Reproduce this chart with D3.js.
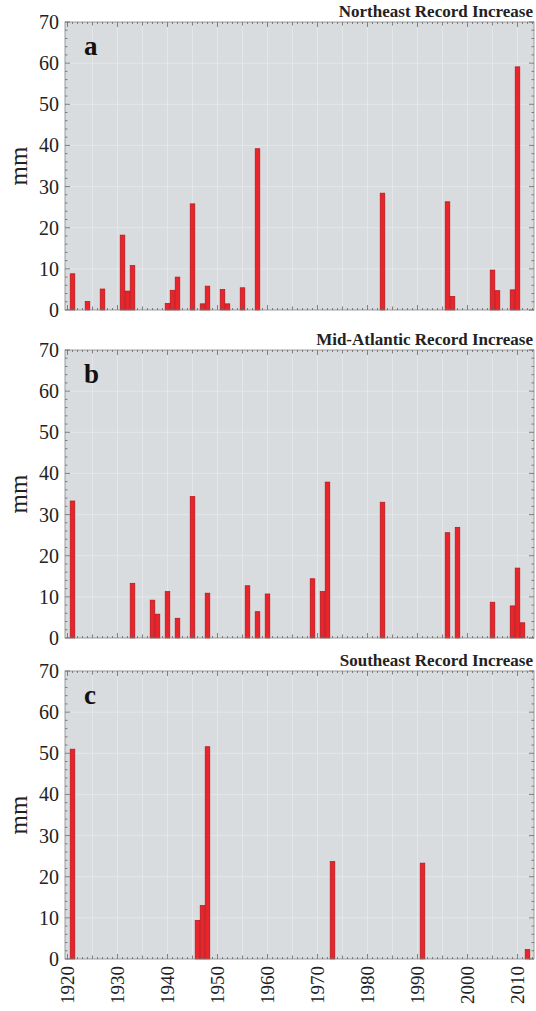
<!DOCTYPE html>
<html><head><meta charset="utf-8">
<script src="https://cdn.jsdelivr.net/npm/d3@7"></script>
<style>body{margin:0;background:#fff}svg{display:block}text{font-family:'Liberation Serif','Times New Roman',Times,serif}</style>
</head><body>
<svg id="c" width="536" height="1011"></svg>
<script>
const yearsA = [1921,1924,1927,1931,1932,1933,1940,1941,1942,1945,1947,1948,1951,1952,1955,1958,1983,1996,1997,2005,2006,2009,2010];
const valuesA = [8.8,2.1,5.1,18.2,4.6,10.8,1.6,4.8,8.0,25.8,1.5,5.8,5.0,1.5,5.4,39.2,28.4,26.3,3.3,9.7,4.7,4.9,59.1];
const yearsB = [1921,1933,1937,1938,1940,1942,1945,1948,1956,1958,1960,1969,1971,1972,1983,1996,1998,2005,2009,2010,2011];
const valuesB = [33.3,13.3,9.2,5.8,11.3,4.8,34.4,10.9,12.7,6.4,10.7,14.4,11.3,37.9,33.0,25.6,26.9,8.7,7.8,17.0,3.7];
const yearsC = [1921,1946,1947,1948,1973,1991,2012];
const valuesC = [51.0,9.4,13.0,51.6,23.7,23.3,2.3];
const panelTitles = ["Northeast Record Increase","Mid-Atlantic Record Increase","Southeast Record Increase"];
const panelLetters = ["a","b","c"];
const yTicks = [0,10,20,30,40,50,60,70];
const xTicks = [1920,1930,1940,1950,1960,1970,1980,1990,2000,2010];

const svg = d3.select("#c");
const L = 65, R = 534, H = 288;
const tops = [22, 350, 671];
const x = d3.scaleLinear().domain([1919.5, 2013.3]).range([L, R]);
const panels = [[yearsA, valuesA],[yearsB, valuesB],[yearsC, valuesC]];
const tickCol = "#666";

panels.forEach(([yrs, vals], i) => {
  const top = tops[i], bot = top + H;
  const y = d3.scaleLinear().domain([0,70]).range([bot, top]);
  const g = svg.append("g");
  g.append("rect").attr("x", L).attr("y", top).attr("width", R-L).attr("height", H).attr("fill", "#d9dcdf");
  g.selectAll(".gv").data(d3.range(1925, 2013, 5)).join("line")
    .attr("x1", d=>x(d)).attr("x2", d=>x(d)).attr("y1", top).attr("y2", bot)
    .attr("stroke", "#eceef0").attr("stroke-width", 1).attr("opacity", 0.6);
  g.selectAll(".gh").data(d3.range(10, 70, 10)).join("line")
    .attr("x1", L).attr("x2", R).attr("y1", d=>y(d)).attr("y2", d=>y(d))
    .attr("stroke", "#eceef0").attr("stroke-width", 1).attr("opacity", 0.6);
  const bw = 4.6;
  g.selectAll(".bar").data(yrs.map((yr,k)=>({yr, v: vals[k]}))).join("rect")
    .attr("x", d=>x(d.yr)-bw/2).attr("width", bw)
    .attr("y", d=>y(d.v)).attr("height", d=>y(0)-y(d.v))
    .attr("fill", "#e8252b").attr("stroke", "#b5141b").attr("stroke-width", 0.7);
  g.append("rect").attr("x", L).attr("y", top).attr("width", R-L).attr("height", H)
    .attr("fill", "none").attr("stroke", "#888").attr("stroke-width", 0.8);
  const yrTicks = d3.range(1920, 2014, 1);
  const tl = d => d % 10 === 0 ? 5 : (d % 5 === 0 ? 3.5 : 2);
  g.selectAll(".tb").data(yrTicks).join("line")
    .attr("x1", d=>x(d)).attr("x2", d=>x(d)).attr("y1", bot).attr("y2", d=>bot-tl(d))
    .attr("stroke", tickCol).attr("stroke-width", 0.8);
  g.selectAll(".tt").data(yrTicks).join("line")
    .attr("x1", d=>x(d)).attr("x2", d=>x(d)).attr("y1", top).attr("y2", d=>top+tl(d))
    .attr("stroke", tickCol).attr("stroke-width", 0.8);
  const vTicks = d3.range(0, 71, 2);
  const vl = d => d % 10 === 0 ? 5 : 2.5;
  g.selectAll(".tl").data(vTicks).join("line")
    .attr("x1", L).attr("x2", d=>L+vl(d)).attr("y1", d=>y(d)).attr("y2", d=>y(d))
    .attr("stroke", tickCol).attr("stroke-width", 0.8);
  g.selectAll(".tr").data(vTicks).join("line")
    .attr("x1", R).attr("x2", d=>R-vl(d)).attr("y1", d=>y(d)).attr("y2", d=>y(d))
    .attr("stroke", tickCol).attr("stroke-width", 0.8);
  g.selectAll(".yl").data(yTicks).join("text")
    .attr("x", L-6).attr("y", d=>y(d)).attr("dy", "0.35em")
    .attr("text-anchor", "end").attr("font-size", 20).attr("fill", "#222")
    .text(d=>d);
  g.append("text").attr("transform", `translate(27,${(top+bot)/2}) rotate(-90)`)
    .attr("text-anchor", "middle").attr("font-size", 25).attr("fill", "#222")
    .text("mm");
  g.append("text").attr("x", 84).attr("y", top+33).attr("font-weight", "bold")
    .attr("font-size", 27).attr("fill", "#111").text(panelLetters[i]);
  g.append("text").attr("x", 533).attr("y", top-5).attr("text-anchor", "end")
    .attr("font-weight", "bold").attr("font-size", 17).attr("fill", "#222")
    .text(panelTitles[i]);
  if (i === 2) {
    g.selectAll(".xl").data(xTicks).join("text")
      .attr("transform", d=>`translate(${x(d)},${bot+7}) rotate(-90)`)
      .attr("dy", "0.35em").attr("text-anchor", "end")
      .attr("font-size", 19).attr("fill", "#222").text(d=>d);
  }
});
</script>
</body></html>
